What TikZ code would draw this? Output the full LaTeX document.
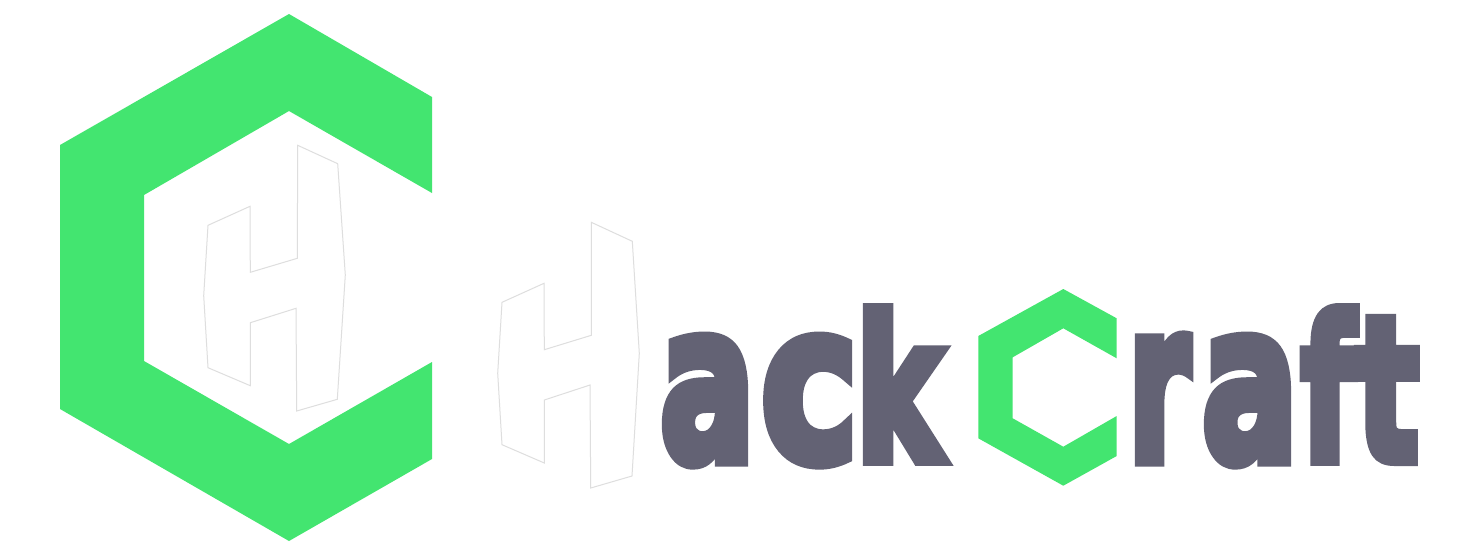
\documentclass[tikz,border=0pt]{standalone}
\usepackage{fontspec}
\usepackage{graphicx}
\newfontface\logofont{DejaVu Sans Bold}[RawFeature={embolden=6}]
\definecolor{logogreen}{HTML}{43E570}
\definecolor{logoslate}{HTML}{636274}
\definecolor{logoedge}{HTML}{DEDEDE}
\newcommand\logoglyph[3]{\resizebox*{#1pt}{#2pt}{#3}}
\tikzset{
  greenshape/.style={fill=logogreen,draw=none},
  hshape/.style={fill=white,draw=logoedge,line width=1pt,line join=miter},
  wordstyle/.style={inner sep=0pt,outer sep=0pt,anchor=base west,text=logoslate,font=\logofont\fontsize{100}{100}\selectfont}
}
\begin{document}
\begin{tikzpicture}[x=1pt,y=-1pt]
\useasboundingbox (0,0) rectangle (1479,550);
\fill[white] (0,0) rectangle (1479,550);
% large C
\fill[greenshape] (289,14)--(432,97)--(432,193)--(289,111)--(144,195)--(144,361)--(289,444)--(432,362)--(432,459)--(289,541)--(60,409)--(60,145)--cycle;
% H inside C
\draw[hshape] (297.7,145.3)--(337.7,163.7)--(345.3,275)--(337.3,399.3)--(296.7,411)--(296,308.3)--(250.3,322.7)--(250.3,385.7)--(208,367.7)--(203.7,295.7)--(208,225.3)--(250,206.3)--(250.3,272.3)--(297.3,258.3)--cycle;
% H of the word
\draw[hshape] (591.3,222.3)--(632.3,241.3)--(639.3,353.3)--(632,476)--(590.7,488)--(590,385)--(544.3,400)--(544.3,463)--(502,444.7)--(497.7,373.3)--(502,302.3)--(544,283.3)--(544.3,349.7)--(591.3,335.3)--cycle;
% small C
\fill[greenshape] (1063.3,289)--(1116.7,318.3)--(1116.7,358.3)--(1063.3,328.3)--(1012.7,357.3)--(1012.7,418.3)--(1063.3,446.7)--(1116.7,416)--(1116.7,456)--(1063.3,485.7)--(978.3,438.3)--(978.3,336)--cycle;
\node[wordstyle] (ack) at (660,460) {\logoglyph{95}{125}{a}\kern 6pt\logoglyph{97}{125}{c}\kern -2pt\logoglyph{86}{151}{k}};
\node[wordstyle] (raft) at (1128,460) {\logoglyph{62}{123}{r}\kern 12pt\logoglyph{96}{125}{a}\kern 3pt\logoglyph{54}{151}{f}\kern 1pt\logoglyph{63}{140}{t}};
\end{tikzpicture}
\end{document}
